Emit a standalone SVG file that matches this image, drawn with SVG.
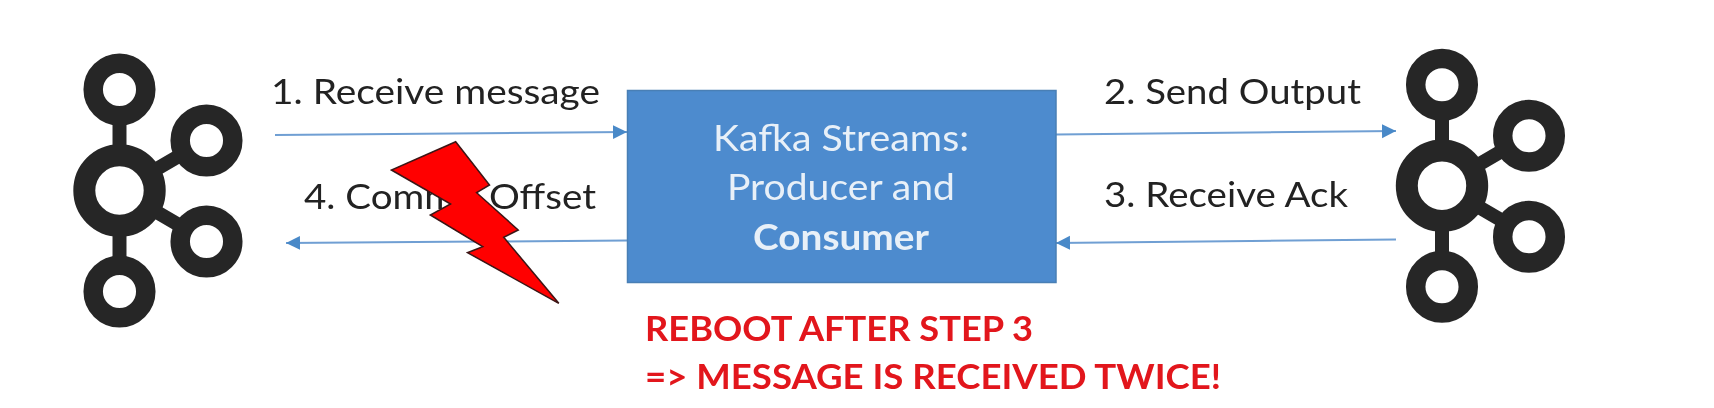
<svg xmlns="http://www.w3.org/2000/svg" width="1714" height="408" viewBox="0 0 1714 408">
<style>
.ring{fill:none;stroke:#282828;stroke-width:19.500}
.hub{fill:none;stroke:#282828;stroke-width:22}
.spoke{stroke:#282828;stroke-width:14;fill:none}
.cn{fill:none;stroke:#6f9fd3;stroke-width:2;marker-end:url(#ah)}
.lbl{font-family:"Lato","Open Sans",sans-serif;font-size:35px;fill:#222}
.box{font-family:"Lato","Open Sans",sans-serif;font-size:37px;fill:#e8f0f8;text-anchor:middle}
.red{font-family:"Lato","Open Sans",sans-serif;font-size:35px;font-weight:700;fill:#e2151b}
.soft{filter:url(#soft)}
</style>
<defs>
<filter id="soft" filterUnits="userSpaceOnUse" x="0" y="0" width="1714" height="408"><feGaussianBlur stdDeviation="0.7"/></filter>
<marker id="ah" markerUnits="userSpaceOnUse" markerWidth="16" markerHeight="16" refX="14" refY="7" orient="auto"><path d="M0 0L14 7L0 14Z" fill="#4a89c8"/></marker>
<g id="logo">
<path class="spoke" d="M0 -44V-68M0 44V68M38 -22L62 -36M38 22L62 36"/>
<circle class="ring" cx="0" cy="-101" r="26.300"/>
<circle class="hub" cx="0" cy="0" r="35.200"/>
<circle class="ring" cx="87" cy="-50" r="26.300"/>
<circle class="ring" cx="87" cy="51" r="26.300"/>
<circle class="ring" cx="0" cy="101" r="26.300"/>
</g>
</defs>
<rect width="1714" height="408" fill="#fff"/>
<g id="connectors" class="soft">
<path class="cn" d="M275 135L627 132"/>
<path class="cn" d="M1056 134.500L1396 131"/>
<path class="cn" d="M1396 239.500L1056 243"/>
<path class="cn" d="M627 240.500L286 243"/>
</g>
<g id="kafka-left" class="soft"><use href="#logo" x="119.500" y="190.500"/></g>
<g id="kafka-right" class="soft"><use href="#logo" x="1442" y="185.700"/></g>
<g id="streams" class="soft">
<rect x="627.500" y="90.500" width="428.500" height="192" fill="#4d8bce" stroke="#4a7fb5" stroke-width="1.500"/>
<text class="box" x="841" y="151" textLength="256" lengthAdjust="spacingAndGlyphs">Kafka Streams:</text>
<text class="box" x="841" y="200" textLength="228" lengthAdjust="spacingAndGlyphs">Producer and</text>
<text class="box" x="841" y="250" font-weight="700" textLength="176" lengthAdjust="spacingAndGlyphs">Consumer</text>
</g>
<g id="labels" class="soft">
<text class="lbl" x="271" y="104" textLength="329" lengthAdjust="spacingAndGlyphs">1. Receive message</text>
<text class="lbl" x="304" y="209" textLength="292" lengthAdjust="spacingAndGlyphs">4. Commit Offset</text>
<text class="lbl" x="1104" y="104" textLength="257" lengthAdjust="spacingAndGlyphs">2. Send Output</text>
<text class="lbl" x="1104" y="207" textLength="244" lengthAdjust="spacingAndGlyphs">3. Receive Ack</text>
</g>
<g id="lightning" class="soft">
<path d="M455.700 141.700L489.500 185L476.600 192.700L518.200 230L503.700 237.300L558.800 303.300L467.500 252.700L482.700 246.700L430.300 215L450.600 204L391.400 170Z" fill="#f00" stroke="#3a1414" stroke-width="1.500"/>
</g>
<g id="warning" class="soft">
<text class="red" x="645" y="341" textLength="388" lengthAdjust="spacingAndGlyphs">REBOOT AFTER STEP 3</text>
<text class="red" x="645" y="389" textLength="576" lengthAdjust="spacingAndGlyphs">=&gt; MESSAGE IS RECEIVED TWICE!</text>
</g>
</svg>
